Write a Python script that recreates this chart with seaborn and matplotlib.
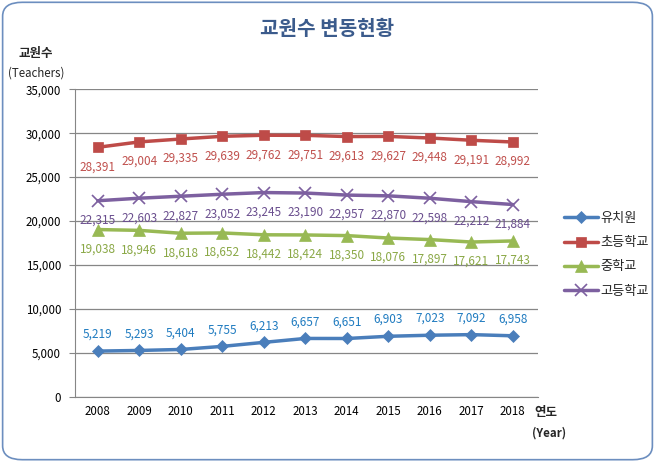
import matplotlib
matplotlib.use('Agg')
import matplotlib.pyplot as plt
import seaborn as sns
import pandas as pd
from matplotlib.patches import FancyBboxPatch
from matplotlib.ticker import FuncFormatter

years = ['2008', '2009', '2010', '2011', '2012', '2013', '2014', '2015', '2016', '2017', '2018']
kinder = [5219, 5293, 5404, 5755, 6213, 6657, 6651, 6903, 7023, 7092, 6958]
elem = [28391, 29004, 29335, 29639, 29762, 29751, 29613, 29627, 29448, 29191, 28992]
middle = [19038, 18946, 18618, 18652, 18442, 18424, 18350, 18076, 17897, 17621, 17743]
high = [22315, 22603, 22827, 23052, 23245, 23190, 22957, 22870, 22598, 22212, 21884]
names = ['유치원', '초등학교', '중학교', '고등학교']

sns.set_style('white')
plt.rcParams['font.family'] = ['Noto Sans CJK KR', 'DejaVu Sans']

line_colors = ['#4A7EBB', '#BE4B48', '#98B954', '#7D60A0']
label_colors = ['#1F7BC0', '#C0504D', '#8AA846', '#6A4E8E']
markers = ['D', 's', '^', 'x']
msizes = [6, 7.5, 8, 8]
# label offsets in points (above / below the point)
offsets = [12, -14, -14, -14]

rows = []
for name, vals in zip(names, [kinder, elem, middle, high]):
    for i, v in enumerate(vals):
        rows.append({'pos': i, 'year': years[i], 'value': v, 'school': name})
df = pd.DataFrame(rows)

fig = plt.figure(figsize=(6.55, 4.62), dpi=100)
ax = fig.add_axes([0.1145, 0.1407, 0.7065, 0.6663])

for k, name in enumerate(names):
    sub = df[df['school'] == name]
    sns.lineplot(data=sub, x='pos', y='value', ax=ax, color=line_colors[k], linewidth=2.5,
                 marker=markers[k], markersize=msizes[k], markeredgecolor=line_colors[k],
                 markeredgewidth=1.2 if markers[k] == 'x' else 0.5, label=name)
    for _, r in sub.iterrows():
        ax.annotate(f"{r['value']:,}", (r['pos'], r['value']), textcoords='offset points',
                    xytext=(0, offsets[k]), ha='center', va='center', fontsize=8.5,
                    color=label_colors[k])

ax.set_ylim(0, 35000)
ax.set_yticks(range(0, 35001, 5000))
ax.yaxis.set_major_formatter(FuncFormatter(lambda v, p: f"{int(v):,}"))
ax.set_xlim(-0.55, 10.6)
ax.set_xticks(range(len(years)))
ax.set_xticklabels(years)
ax.tick_params(axis='both', labelsize=8.3, colors='black', length=0, pad=6)
ax.tick_params(axis='y', length=4, color='#868686', direction='out', left=True)
ax.grid(axis='y', color='#868686', linewidth=0.9)
ax.set_axisbelow(True)
for s in ['top', 'right']:
    ax.spines[s].set_visible(False)
ax.spines['left'].set_color('#868686')
ax.spines['bottom'].set_color('#868686')
ax.set_xlabel('')
ax.set_ylabel('')

leg = ax.legend(loc='center left', bbox_to_anchor=(1.03, 0.462), frameon=False, fontsize=9.5,
                handlelength=2.6, labelspacing=0.85, handletextpad=0.2)

fig.text(0.5, 0.938, '교원수 변동현황', ha='center', va='center', fontsize=14.5,
         fontweight='bold', color='#3B5B8C')
fig.text(0.055, 0.885, '교원수', ha='center', va='center', fontsize=9, fontweight='bold')
fig.text(0.055, 0.843, '(Teachers)', ha='center', va='center', fontsize=8.3)
fig.text(0.834, 0.108, '연도', ha='center', va='center', fontsize=9, fontweight='bold')
fig.text(0.838, 0.062, '(Year)', ha='center', va='center', fontsize=8.3, fontweight='bold')

border = FancyBboxPatch((0.004, 0.005), 0.992, 0.99, boxstyle='round,pad=0,rounding_size=0.03',
                        transform=fig.transFigure, fill=False, edgecolor='#6C8EBF', linewidth=1.2)
fig.patches.append(border)

fig.savefig('out.png', dpi=100)
